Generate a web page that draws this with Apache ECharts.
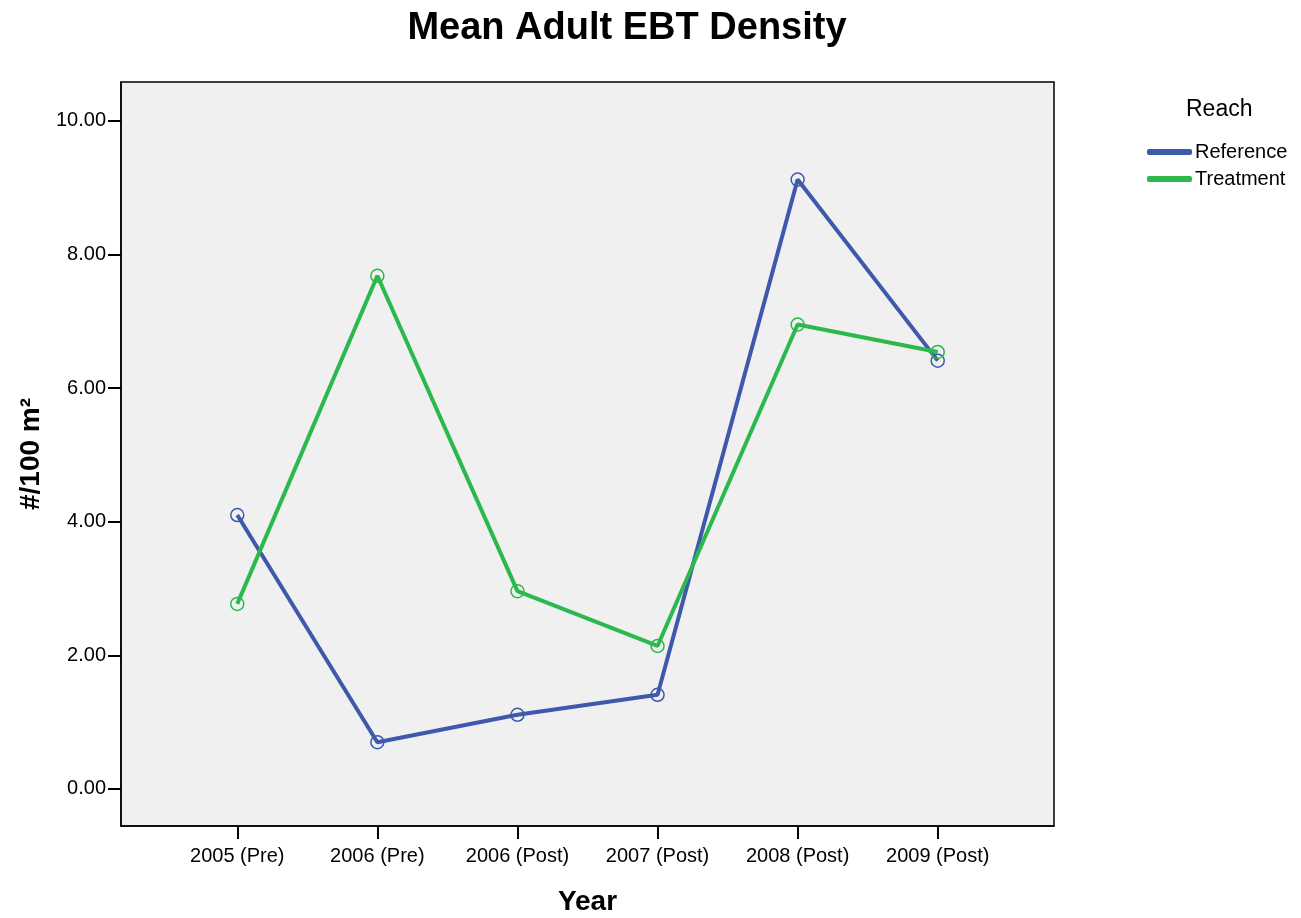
<!DOCTYPE html>
<html>
<head>
<meta charset="utf-8">
<script src="https://cdn.jsdelivr.net/npm/echarts@6/dist/echarts.min.js"></script>
<style>
  html, body { margin: 0; padding: 0; background: #fff; }
  #chart { width: 1301px; height: 918px; }
</style>
</head>
<body>
<div id="chart"></div>
<script>
// data
var categories = ['2005 (Pre)', '2006 (Pre)', '2006 (Post)', '2007 (Post)', '2008 (Post)', '2009 (Post)'];
var referenceValues = [4.10, 0.70, 1.11, 1.41, 9.12, 6.41];
var treatmentValues = [2.77, 7.68, 2.96, 2.14, 6.95, 6.54];
var yTicks = [0, 2, 4, 6, 8, 10];
var xTicks = [0, 1, 2, 3, 4, 5];

var blue = '#3e58ac';
var green = '#2db84d';
var font = 'Liberation Sans, Arial, sans-serif';

function pairs(vals) {
    return vals.map(function (v, i) { return [i, v]; });
}

var chart = echarts.init(document.getElementById('chart'));

var option = {
    animation: false,
    textStyle: {fontFamily: font, color: '#000'},
    title: {
        text: 'Mean Adult EBT Density',
        left: 622,
        top: 5,
        textAlign: 'center',
        textStyle: {fontFamily: font, fontSize: 38, fontWeight: 'bold', color: '#000'}
    },
    graphic: [{
        type: 'text',
        left: 1186,
        top: 98,
        style: {text: 'Reach', fontFamily: font, fontSize: 23, fill: '#000'}
    }],
    legend: {
        orient: 'vertical',
        left: 1147,
        top: 142,
        padding: 0,
        itemWidth: 43,
        itemHeight: 4,
        itemGap: 7,
        icon: 'roundRect',
        textStyle: {fontFamily: font, fontSize: 20, color: '#000', padding: [0, 0, 0, -1]},
        data: [
            {name: 'Reference', itemStyle: {color: blue}},
            {name: 'Treatment', itemStyle: {color: green}}
        ]
    },
    grid: {
        left: 121,
        top: 82,
        width: 933,
        height: 744,
        containLabel: false,
        outerBoundsMode: 'none',
        show: true,
        backgroundColor: '#f0f0f0',
        borderColor: '#000',
        borderWidth: 1.5
    },
    xAxis: {
        type: 'value',
        min: -0.83,
        max: 5.83,
        name: 'Year',
        nameLocation: 'middle',
        nameGap: 62,
        nameTextStyle: {fontFamily: font, fontSize: 28, fontWeight: 'bold', color: '#000'},
        splitLine: {show: false},
        axisLine: {show: true, onZero: false, lineStyle: {color: '#000', width: 1.5}},
        axisTick: {show: true, customValues: xTicks, length: 13, inside: false, lineStyle: {color: '#000', width: 2}},
        axisLabel: {
            customValues: xTicks,
            margin: 20,
            fontFamily: font,
            fontSize: 20,
            color: '#000',
            formatter: function (v) { return categories[Math.round(v)]; }
        }
    },
    yAxis: {
        type: 'value',
        min: -0.554,
        max: 10.58,
        name: '#/100 m²',
        nameLocation: 'middle',
        nameGap: 74,
        nameRotate: 90,
        nameTextStyle: {fontFamily: font, fontSize: 28, fontWeight: 'bold', color: '#000'},
        splitLine: {show: false},
        axisLine: {show: true, onZero: false, lineStyle: {color: '#000', width: 1.5}},
        axisTick: {show: true, customValues: yTicks, length: 13, inside: false, lineStyle: {color: '#000', width: 2}},
        axisLabel: {
            customValues: yTicks,
            margin: 15,
            fontFamily: font,
            fontSize: 20,
            color: '#000',
            formatter: function (v) { return v.toFixed(2); }
        }
    },
    series: [
        {
            name: 'Reference',
            type: 'line',
            data: pairs(referenceValues),
            symbol: 'circle',
            symbolSize: 13,
            lineStyle: {color: blue, width: 4},
            itemStyle: {color: 'rgba(0,0,0,0)', borderColor: blue, borderWidth: 1.5},
            emphasis: {disabled: true}
        },
        {
            name: 'Treatment',
            type: 'line',
            data: pairs(treatmentValues),
            symbol: 'circle',
            symbolSize: 13,
            lineStyle: {color: green, width: 4},
            itemStyle: {color: 'rgba(0,0,0,0)', borderColor: green, borderWidth: 1.5},
            emphasis: {disabled: true}
        }
    ]
};

chart.setOption(option);
</script>
</body>
</html>
